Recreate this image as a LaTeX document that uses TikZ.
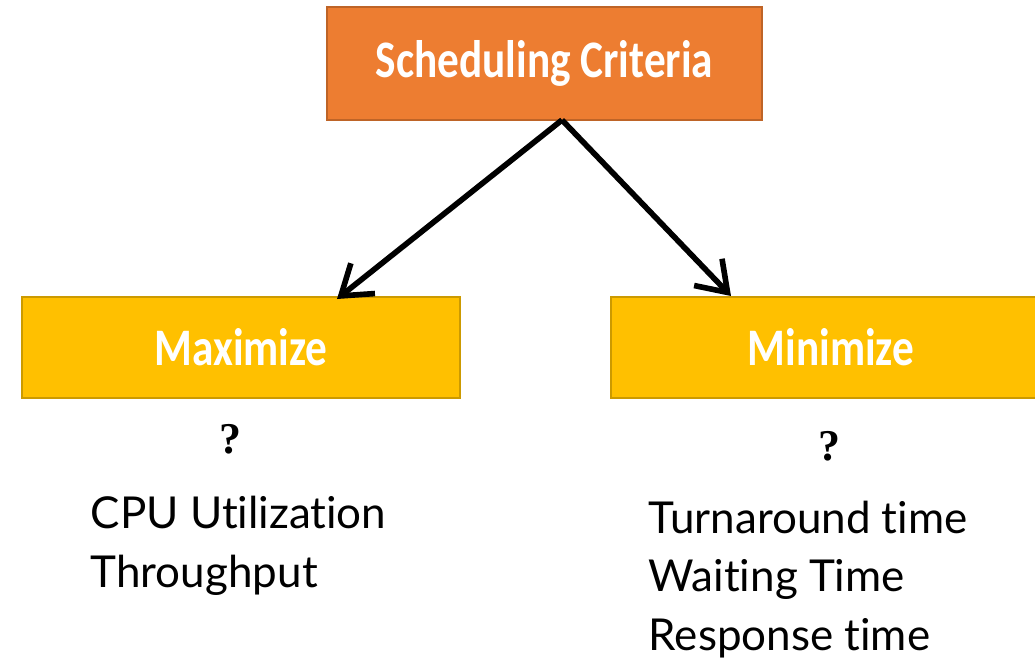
\documentclass[tikz,border=0pt]{standalone}
\usepackage{fontspec}
\usepackage{graphicx}
\setmainfont{Lato}[Ligatures=NoCommon]
\newfontfamily\boxfont{Carlito}
\newfontfamily\markfont{Liberation Serif}
\usetikzlibrary{arrows.meta}
\definecolor{critorange}{HTML}{ED7D31}
\definecolor{goalyellow}{HTML}{FFC000}
\begin{document}
\begin{tikzpicture}[x=0.01cm, y=-0.01cm,
  crit/.style={rectangle, fill=critorange, draw=critorange!80!black, line width=0.6pt,
    minimum width=4.35cm, minimum height=1.13cm, text=white,
    font=\boxfont\bfseries\fontsize{15}{18}\selectfont},
  goal/.style={rectangle, fill=goalyellow, draw=goalyellow!80!black, line width=0.6pt,
    minimum height=1.01cm, text=white,
    font=\boxfont\bfseries\fontsize{15}{18}\selectfont},
  arr/.style={-{Straight Barb[length=8pt, width=11pt, line width=1.6pt]}, line width=1.6pt},
  item/.style={anchor=base west, align=left, inner sep=0, font=\fontsize{12.5}{16.5}\selectfont},
  qmark/.style={anchor=base, inner sep=0, font=\markfont\bfseries\fontsize{12.5}{15}\selectfont}
]
\useasboundingbox (0,0) rectangle (1035,660);
\node[crit] (sched) at (544.5,63.5){\scalebox{0.82}[1]{Scheduling Criteria}};
\node[goal, minimum width=4.38cm] (maxi) at (241,347.5){\scalebox{0.82}[1]{Maximize}};
\node[goal, minimum width=4.40cm] (mini) at (831,347.5){\scalebox{0.82}[1]{Minimize}};
\coordinate (fork) at (562,120);
\coordinate (maxtip) at (337,299);
\coordinate (mintip) at (731,296);
\draw[arr] (fork) -- (maxtip);
\draw[arr] (fork) -- (mintip);
\node[qmark] (maxq) at (230,453){?};
\node[qmark] (minq) at (829,460){?};
% base anchor sits on the last line
\node[item] (maxlist) at (90,587){CPU Utilization\\Throughput};
\node[item] (minlist) at (648,650){Turnaround time\\Waiting Time\\Response time};
\end{tikzpicture}
\end{document}
